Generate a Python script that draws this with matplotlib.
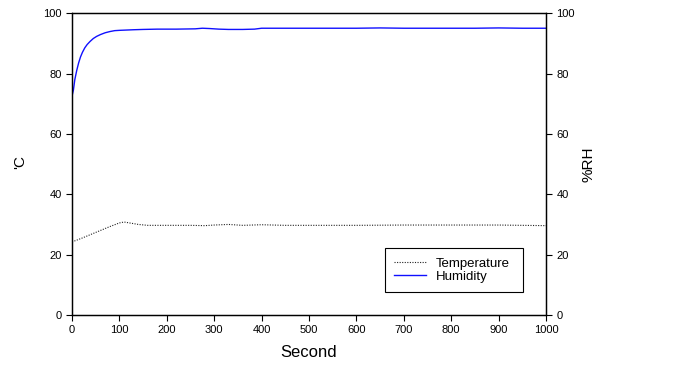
import matplotlib
matplotlib.use("Agg")
import matplotlib.pyplot as plt

plt.rcParams['font.family'] = ['Liberation Sans', 'DejaVu Sans']

# time (s) and readings picked off the original curves
hum_t = [0, 3, 6, 10, 14, 18, 22, 27, 32, 38, 45, 52, 60, 70, 80, 90, 100, 115, 130, 150,
         180, 220, 260, 275, 290, 310, 330, 360, 385, 400, 450, 500, 550, 600, 650, 700,
         750, 800, 850, 900, 950, 1000]
hum_v = [72.5, 74.5, 78.0, 81.0, 83.5, 85.5, 87.0, 88.5, 89.6, 90.6, 91.6, 92.3, 92.9, 93.5,
         93.9, 94.2, 94.3, 94.4, 94.5, 94.6, 94.7, 94.7, 94.8, 95.0, 94.9, 94.7, 94.6, 94.6,
         94.7, 95.0, 95.0, 95.0, 95.0, 95.0, 95.1, 95.0, 95.0, 95.0, 95.0, 95.1, 95.0, 95.0]

temp_t = [0, 20, 40, 60, 80, 100, 110, 125, 140, 160, 200, 250, 280, 300, 330, 360, 400,
          450, 500, 600, 700, 800, 900, 1000]
temp_v = [24.2, 25.4, 26.7, 28.0, 29.3, 30.5, 30.8, 30.4, 30.0, 29.7, 29.7, 29.7, 29.6, 29.8,
          30.0, 29.7, 29.9, 29.7, 29.7, 29.7, 29.8, 29.8, 29.8, 29.6]

fig = plt.figure(figsize=(6.74, 3.65), dpi=100)
ax = fig.add_axes([0.1068, 0.137, 0.7033, 0.827])

l1, = ax.plot(temp_t, temp_v, color='#222222', linestyle=(0, (1, 1.3)), linewidth=0.8, label='Temperature')
l2, = ax.plot(hum_t, hum_v, color='#1010ff', linewidth=1.0, label='Humidity')

ax.set_xlim(0, 1000)
ax.set_ylim(0, 100)
ax.set_xticks(range(0, 1001, 100))
ax.set_yticks(range(0, 101, 20))
ax.tick_params(direction='out', length=4, width=0.8, labelsize=8)
ax.set_xlabel('Second', fontsize=12)
ax.set_ylabel("'C", fontsize=11)
ax.xaxis.set_label_coords(0.5, -0.1)
ax.yaxis.set_label_coords(-0.094, 0.507)

ax2 = ax.twinx()
ax2.set_ylim(0, 100)
ax2.set_yticks(range(0, 101, 20))
ax2.tick_params(direction='out', length=4, width=0.8, labelsize=8)
ax2.set_ylabel('%RH', fontsize=11)
ax2.yaxis.set_label_coords(1.075, 0.5)

for a in (ax, ax2):
    for s in a.spines.values():
        s.set_linewidth(0.9)

leg = ax.legend(handles=[l1, l2], loc='lower left', bbox_to_anchor=(0.66, 0.076, 0.291, 0.152),
                mode='expand', fancybox=False, edgecolor='black', framealpha=1,
                fontsize=9.5, handlelength=2.45, handletextpad=0.7, borderpad=0.7,
                labelspacing=0.05, borderaxespad=0)
leg.get_frame().set_linewidth(0.8)

fig.savefig('out.png', dpi=100)
